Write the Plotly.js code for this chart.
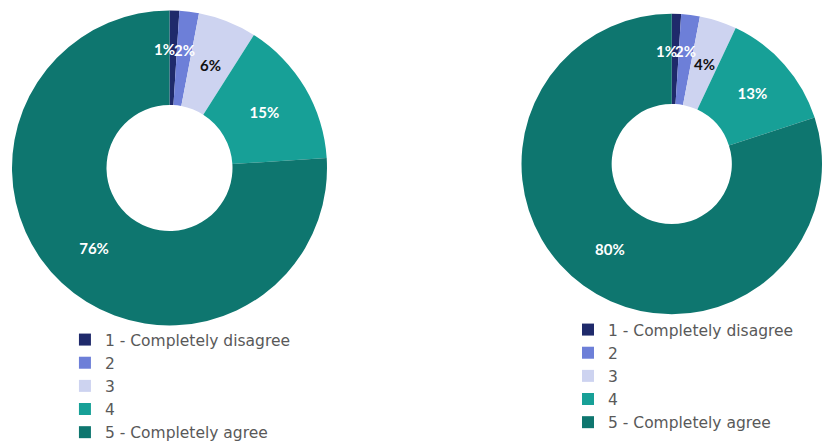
<!DOCTYPE html>
<html>
<head>
<meta charset="utf-8">
<script src="https://cdn.plot.ly/plotly-3.0.1.min.js"></script>
<style>html,body{margin:0;padding:0;background:#fff;}#chart{width:822px;height:444px;}</style>
</head>
<body>
<div id="chart"></div>
<script>
const categories = ["1 - Completely disagree", "2", "3", "4", "5 - Completely agree"];
const leftValues = [1, 2, 6, 15, 76];
const rightValues = [1, 2, 4, 13, 80];
const sliceColors = ["#1f2a6b", "#6d7fd8", "#cdd3f0", "#17a097", "#0e766f"];
const textColors = ["#ffffff", "#ffffff", "#111111", "#ffffff", "#ffffff"];

const W = 822, H = 444;
const leftDomain = {x: [12/W, 327/W], y: [1 - 325.5/H, 1 - 10.5/H]};
const rightDomain = {x: [521.5/W, 1.0], y: [1 - 315/H, 1 - 13/H]};
const HOLE = 0.4;
const SMALL = 7; // slices below this % are labelled at the ring's middle
const labelFont = {family: "Lato", size: 15, weight: "bold"};

function bigText(vals){ return vals.map(v => v >= SMALL ? v + "%" : ""); }

function smallLabels(vals, dom){
  const pxW = (dom.x[1] - dom.x[0]) * W, pxH = (dom.y[1] - dom.y[0]) * H;
  const r = Math.min(pxW, pxH) / 2;
  const cx = (dom.x[0] + dom.x[1]) / 2, cy = (dom.y[0] + dom.y[1]) / 2;
  const total = vals.reduce((a, b) => a + b, 0);
  const out = [];
  let cum = 0;
  vals.forEach((v, i) => {
    const mid = (cum + v / 2) / total * 2 * Math.PI;
    cum += v;
    if (v >= SMALL) return;
    const rr = r * (v < 3 ? 0.755 : 0.70);
    out.push({
      xref: "paper", yref: "paper",
      xanchor: "center", yanchor: "middle",
      x: cx + rr * Math.sin(mid) / W,
      y: cy + rr * Math.cos(mid) / H,
      xshift: i === 0 ? -9 : 0,
      text: v + "%", showarrow: false,
      font: Object.assign({color: textColors[i]}, labelFont)
    });
  });
  return out;
}

const common = {
  type: "pie",
  hole: HOLE,
  sort: false,
  direction: "clockwise",
  rotation: 0,
  textinfo: "text",
  textposition: "inside",
  insidetextorientation: "horizontal",
  marker: {colors: sliceColors, line: {width: 0}},
  insidetextfont: Object.assign({color: textColors}, labelFont),
  hoverinfo: "label+percent"
};

const data = [
  Object.assign({}, common, {
    labels: categories,
    values: leftValues,
    text: bigText(leftValues),
    domain: leftDomain,
    legend: "legend"
  }),
  Object.assign({}, common, {
    labels: categories.map(c => c + " "),
    values: rightValues,
    text: bigText(rightValues),
    domain: rightDomain,
    legend: "legend2"
  })
];

const legendFont = {family: "DejaVu Sans", size: 15.5, color: "#595959"};
const layout = {
  width: W, height: H,
  margin: {l: 0, r: 0, t: 0, b: 0, autoexpand: false},
  paper_bgcolor: "#ffffff",
  legend: {x: 0.079, y: 1 - 323/H, xanchor: "left", yanchor: "top", font: legendFont, bgcolor: "rgba(0,0,0,0)"},
  legend2: {x: 0.691, y: 1 - 313/H, xanchor: "left", yanchor: "top", font: legendFont, bgcolor: "rgba(0,0,0,0)"},
  showlegend: true,
  annotations: smallLabels(leftValues, leftDomain).concat(smallLabels(rightValues, rightDomain))
};

Plotly.newPlot("chart", data, layout, {displayModeBar: false, staticPlot: true});
</script>
</body>
</html>
